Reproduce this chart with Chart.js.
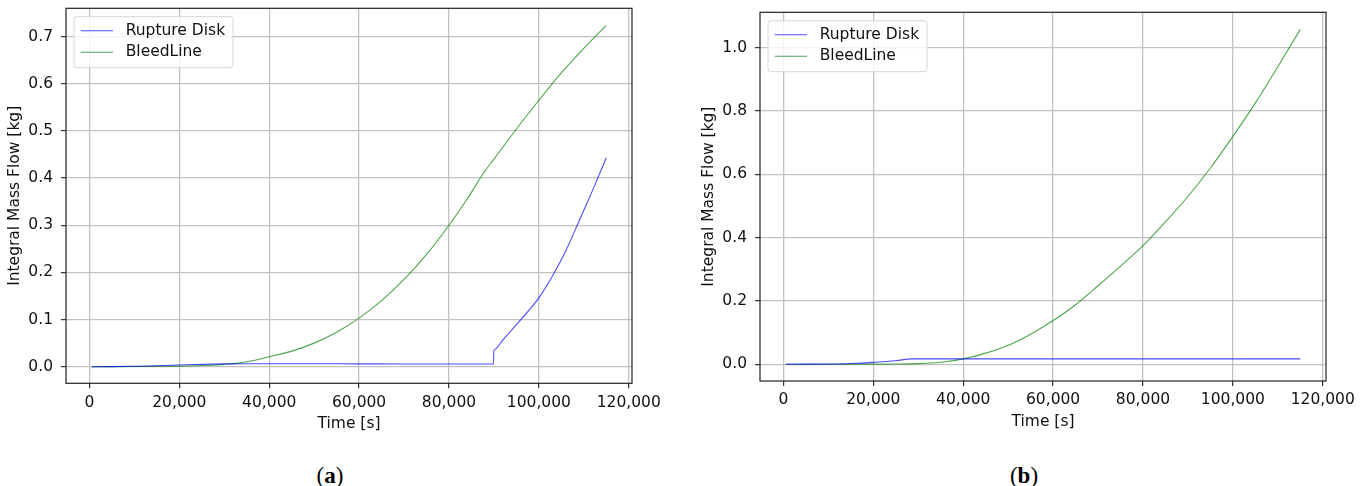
<!DOCTYPE html>
<html>
<head>
<meta charset="utf-8">
<title>Integral Mass Flow</title>
<script src="https://cdn.jsdelivr.net/npm/chart.js@4.4.1/dist/chart.umd.min.js"></script>
<style>
  html, body { margin: 0; padding: 0; background: #fff; }
  #page { position: relative; width: 1372px; height: 486px; overflow: hidden; }
  canvas { position: absolute; top: 0; }
  #chartA { left: 0; }
  #chartB { left: 694px; }
  .caption {
    position: absolute; top: 462px; width: 80px; text-align: center;
    font: 23px "Liberation Serif", serif; line-height: 28px; color: #000;
  }
</style>
</head>
<body>
<div id="page">
  <canvas id="chartA" width="678" height="445"></canvas>
  <canvas id="chartB" width="678" height="445"></canvas>
  <div class="caption" style="left:290px">(<b>a</b>)</div>
  <div class="caption" style="left:984px">(<b>b</b>)</div>
</div>
<script>
"use strict";

// tick values shared by both panels
const timeTicks = [0, 20000, 40000, 60000, 80000, 100000, 120000];
const massTicksA = [0, 0.1, 0.2, 0.3, 0.4, 0.5, 0.6, 0.7];
const massTicksB = [0, 0.2, 0.4, 0.6, 0.8, 1.0];
const seriesLabels = ["Rupture Disk", "BleedLine"];

// panel (a) - the disk bursts at 90,000 s
const ruptureTimeA = [500, 5000, 10000, 15000, 20000, 25000, 30000, 35000, 40000, 50000, 60000, 70000, 80000,
  89900, 90000, 90100, 92000, 95000, 98000, 100000, 103000, 106000, 109000, 112000, 115000];
const ruptureMassA = [0, 0.0002, 0.0008, 0.002, 0.0035, 0.005, 0.006, 0.0064, 0.0064, 0.0062, 0.006, 0.0058, 0.0057,
  0.0057, 0.035, 0.0361, 0.057, 0.089, 0.122, 0.146, 0.192, 0.246, 0.31, 0.375, 0.443];
const bleedTimeA = [500, 10000, 20000, 25000, 30000, 32000, 35000, 40000, 45000, 50000, 55000, 60000, 65000, 70000,
  75000, 80000, 84000, 88000, 90000, 95000, 100000, 105000, 110000, 115000];
const bleedMassA = [0, 0.0003, 0.0012, 0.0025, 0.005, 0.0065, 0.0105, 0.021, 0.033, 0.05, 0.073, 0.103, 0.14, 0.185,
  0.238, 0.30, 0.355, 0.415, 0.44, 0.504, 0.565, 0.623, 0.675, 0.724];

// panel (b)
const ruptureTimeB = [500, 5000, 10000, 15000, 20000, 25000, 28500, 115000];
const ruptureMassB = [0, 0.0002, 0.0008, 0.0025, 0.006, 0.011, 0.0168, 0.0168];
const bleedTimeB = [500, 10000, 20000, 25000, 30000, 33000, 36000, 40000, 45000, 50000, 55000, 60000, 65000, 70000,
  75000, 80000, 85000, 90000, 95000, 100000, 105000, 110000, 115000];
const bleedMassB = [0, 0, 0.0003, 0.0008, 0.002, 0.004, 0.008, 0.017, 0.035, 0.06, 0.095, 0.138, 0.188, 0.248,
  0.31, 0.375, 0.45, 0.53, 0.62, 0.72, 0.825, 0.94, 1.058];

const lineColors = ["rgba(0, 0, 255, 0.7)", "rgba(0, 128, 0, 0.7)"];

Chart.defaults.font.family = '"DejaVu Sans", sans-serif';
Chart.defaults.font.size = 15.5;
Chart.defaults.color = "#111";

function toPoints(times, values) {
  return times.map((t, i) => ({ x: t, y: values[i] }));
}

// box around the plotting area, like a matplotlib axes frame
const framePlugin = {
  id: "frame",
  afterDatasetsDraw(chart) {
    const { ctx, chartArea: a } = chart;
    ctx.save();
    ctx.strokeStyle = "#222";
    ctx.lineWidth = 1.2;
    ctx.strokeRect(a.left, a.top, a.right - a.left, a.bottom - a.top);
    ctx.restore();
  }
};

// legend drawn inside the upper-left corner of the plot
const boxLegend = {
  id: "boxLegend",
  afterDraw(chart) {
    const { ctx, chartArea: a } = chart;
    const x = a.left + 8, y = a.top + 8.4, w = 159, h = 51;
    ctx.save();
    ctx.beginPath();
    ctx.roundRect(x, y, w, h, 3);
    ctx.fillStyle = "rgba(255, 255, 255, 0.8)";
    ctx.fill();
    ctx.strokeStyle = "#d6d6d6";
    ctx.lineWidth = 1;
    ctx.stroke();
    ctx.font = '15.5px "DejaVu Sans"';
    ctx.textBaseline = "middle";
    chart.data.datasets.forEach((ds, i) => {
      const rowY = y + 14 + i * 21.6;
      ctx.strokeStyle = ds.borderColor;
      ctx.lineWidth = 1.1;
      ctx.beginPath();
      ctx.moveTo(x + 6.7, rowY);
      ctx.lineTo(x + 39, rowY);
      ctx.stroke();
      ctx.fillStyle = "#111";
      ctx.fillText(ds.label, x + 51.7, rowY);
    });
    ctx.restore();
  }
};

function makePanel(id, rupture, bleed, massTicks, yMin, yMax, padTop, xAxisHeight, xTitlePad) {
  const grid = { color: "#c2c2c2", lineWidth: 1.3, drawTicks: true, tickLength: 5, tickColor: "#222", tickWidth: 1.1 };
  return new Chart(document.getElementById(id), {
    type: "line",
    data: {
      datasets: [rupture, bleed].map((pts, i) => ({
        label: seriesLabels[i],
        data: pts,
        borderColor: lineColors[i],
        borderWidth: 1.1,
        pointRadius: 0,
        fill: false,
        cubicInterpolationMode: "monotone"
      }))
    },
    options: {
      responsive: false,
      animation: false,
      layout: { autoPadding: false, padding: { left: 0, right: 46, top: padTop, bottom: 0 } },
      plugins: { legend: { display: false }, tooltip: { enabled: false } },
      scales: {
        x: {
          type: "linear",
          min: -5225,
          max: 120725,
          afterBuildTicks: s => { s.ticks = timeTicks.map(v => ({ value: v })); },
          afterFit: s => { s.height = xAxisHeight; s.paddingLeft = 0; s.paddingRight = 0; },
          grid: grid,
          border: { display: false },
          ticks: { padding: 5, maxRotation: 0, autoSkip: false, callback: v => v.toLocaleString("en-US") },
          title: { display: true, text: "Time [s]", padding: { top: 0, bottom: xTitlePad } }
        },
        y: {
          type: "linear",
          min: yMin,
          max: yMax,
          afterBuildTicks: s => { s.ticks = massTicks.map(v => ({ value: v })); },
          afterFit: s => { s.width = 66; s.paddingTop = 0; s.paddingBottom = 0; },
          grid: grid,
          border: { display: false },
          ticks: { padding: 8, callback: v => v.toFixed(1) },
          title: { display: true, text: "Integral Mass Flow [kg]", padding: { top: 6, bottom: 0 } }
        }
      }
    },
    plugins: [framePlugin, boxLegend]
  });
}

makePanel("chartA", toPoints(ruptureTimeA, ruptureMassA), toPoints(bleedTimeA, bleedMassA),
  massTicksA, -0.0352, 0.760, 8.3, 61.7, 11.7);
makePanel("chartB", toPoints(ruptureTimeB, ruptureMassB), toPoints(bleedTimeB, bleedMassB),
  massTicksB, -0.053, 1.112, 12.3, 64, 14);
</script>
</body>
</html>
